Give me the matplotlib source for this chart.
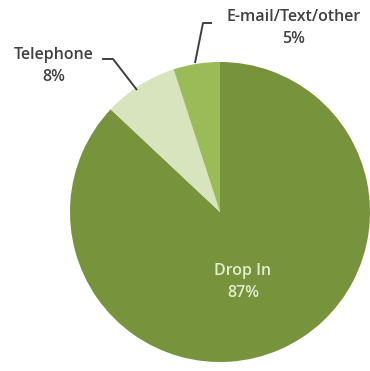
import matplotlib
matplotlib.use("Agg")
import matplotlib.pyplot as plt

# contact channel shares
channels = ["Drop In", "Telephone", "E-mail/Text/other"]
shares = [87, 8, 5]
colors = ["#77933C", "#D7E4BD", "#9BBB59"]

fig = plt.figure(figsize=(3.70, 3.71), dpi=100)
ax = fig.add_axes([0, 0, 1, 1])

ax.pie(shares, colors=colors, startangle=90, counterclock=False,
       center=(220, 159), radius=150, frame=True,
       wedgeprops=dict(linewidth=0))
ax.set_xlim(0, 370)
ax.set_ylim(0, 371)
ax.axis("off")

font = "Open Sans"
dark = "#404040"
txt = dict(ha="center", va="center", fontsize=11.5, family=font,
           weight="semibold", linespacing=1.5)

# Drop In label inside the big slice
ax.text(243, 89, f"{channels[0]}\n{shares[0]}%", color="#E3EDCF", **txt)

# Telephone label and leader line
ax.text(54, 305, f"{channels[1]}\n{shares[1]}%", color=dark, **txt)
ax.plot([102, 113, 137], [312, 312, 281], color=dark, lw=1.4,
        solid_capstyle="butt")

# E-mail/Text/other label and leader line
ax.text(294, 343, f"{channels[2]}\n{shares[2]}%", color=dark, **txt)
ax.plot([212, 203, 195], [348, 348, 308], color=dark, lw=1.4,
        solid_capstyle="butt")

fig.savefig("out.png", dpi=100, facecolor="white")
